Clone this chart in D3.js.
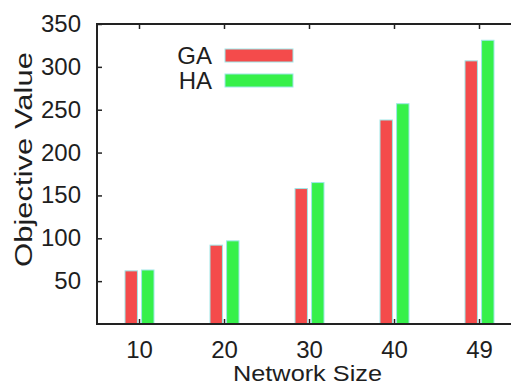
<!DOCTYPE html>
<html>
<head>
<meta charset="utf-8">
<script src="https://cdn.jsdelivr.net/npm/d3@7"></script>
<style>
	body { margin: 0; background: #fff; }
	text { font-family: "Liberation Sans", Arial, sans-serif; fill: #1e1e1e; }
</style>
</head>
<body>
<svg width="511" height="385"></svg>
<script>
// chart data
var sizes = ["10", "20", "30", "40", "49"];
var series = ["GA", "HA"];
var gaValues = [62, 92, 158, 238, 307];
var haValues = [63, 97, 165, 257, 331];
var yTicks = [50, 100, 150, 200, 250, 300, 350];

var colors = { GA: "#f44b4b", HA: "#36f04a" };

var svg = d3.select("svg"),
	plotLeft = 97,
	plotTop = 24,
	plotBottom = 324,
	plotRight = 522; // the frame runs past the window edge

var x = d3.scaleBand().domain(sizes).range([plotLeft, plotRight]);
var xInner = d3.scaleBand().domain(series).range([-14.5, 14.5]).paddingInner(0.25);
var y = d3.scaleLinear().domain([0, 350]).range([plotBottom, plotTop]);

var data = sizes.map(function(s, i) {
	return { size: s, GA: gaValues[i], HA: haValues[i] };
});

// bars
var groups = svg.selectAll(".grp")
	.data(data)
	.enter().append("g")
	.attr("class", "grp")
	.attr("transform", function(d) {
		return "translate(" + (x(d.size) + x.bandwidth() / 2) + ",0)";
	});

groups.selectAll("rect")
	.data(function(d) {
		return series.map(function(k) { return { key: k, value: d[k] }; });
	})
	.enter().append("rect")
	.attr("x", function(d) { return xInner(d.key); })
	.attr("width", xInner.bandwidth())
	.attr("y", function(d) { return y(d.value); })
	.attr("height", function(d) { return plotBottom - y(d.value); })
	.attr("fill", function(d) { return colors[d.key]; })
	.attr("stroke", "#9ee8e8")
	.attr("stroke-width", 1);

// axes (gnuplot style, ticks inside)
svg.append("g")
	.attr("transform", "translate(" + plotLeft + ",0)")
	.call(d3.axisRight(y).tickValues(yTicks).tickSize(5).tickFormat(""));

svg.append("g")
	.attr("transform", "translate(0," + plotBottom + ")")
	.call(d3.axisTop(x).tickSize(5).tickFormat(""));

svg.append("g")
	.attr("transform", "translate(0," + plotTop + ")")
	.call(d3.axisBottom(x).tickSize(5).tickFormat(""));

svg.selectAll(".domain").remove();
svg.selectAll(".tick text").remove();
svg.selectAll(".tick line").attr("stroke", "#222").attr("stroke-width", 1.5);

// frame
svg.append("rect")
	.attr("x", plotLeft)
	.attr("y", plotTop)
	.attr("width", plotRight - plotLeft)
	.attr("height", plotBottom - plotTop)
	.attr("fill", "none")
	.attr("stroke", "#222")
	.attr("stroke-width", 2);

// tick labels
svg.selectAll(".ylab")
	.data(yTicks)
	.enter().append("text")
	.attr("class", "ylab")
	.attr("x", 81)
	.attr("y", function(d) { return y(d) + 8; })
	.attr("text-anchor", "end")
	.style("font-size", "24px")
	.text(function(d) { return d; });

svg.selectAll(".xlab")
	.data(sizes)
	.enter().append("text")
	.attr("class", "xlab")
	.attr("x", function(d) { return x(d) + x.bandwidth() / 2; })
	.attr("y", 358)
	.attr("text-anchor", "middle")
	.style("font-size", "24px")
	.text(function(d) { return d; });

// axis titles
svg.append("text")
	.attr("x", 233)
	.attr("y", 381)
	.attr("textLength", 149)
	.attr("lengthAdjust", "spacingAndGlyphs")
	.style("font-size", "22px")
	.text("Network Size");

svg.append("text")
	.attr("transform", "translate(32,267) rotate(-90)")
	.attr("textLength", 215)
	.attr("lengthAdjust", "spacingAndGlyphs")
	.style("font-size", "23px")
	.text("Objective Value");

// legend
var legend = svg.selectAll(".leg")
	.data(series)
	.enter().append("g")
	.attr("class", "leg")
	.attr("transform", function(d, i) { return "translate(0," + (i * 25) + ")"; });

legend.append("text")
	.attr("x", 212)
	.attr("y", 64)
	.attr("text-anchor", "end")
	.style("font-size", "24px")
	.text(function(d) { return d; });

legend.append("rect")
	.attr("x", 225)
	.attr("y", 49)
	.attr("width", 68)
	.attr("height", 13)
	.attr("fill", function(d) { return colors[d]; })
	.attr("stroke", "#9ee8e8")
	.attr("stroke-width", 1);
</script>
</body>
</html>
